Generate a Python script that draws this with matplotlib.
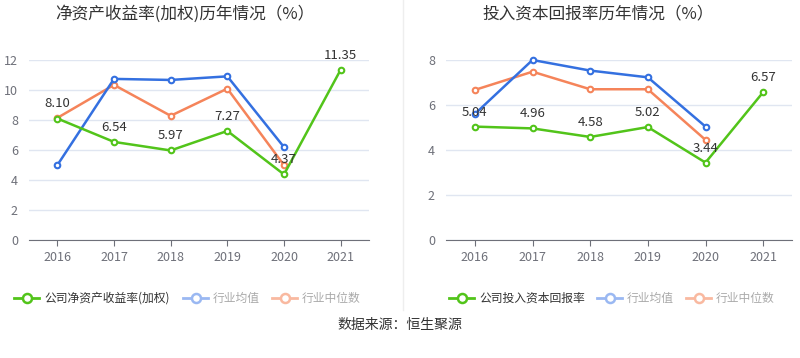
import matplotlib.pyplot as plt
from matplotlib.lines import Line2D

plt.rcParams['font.family'] = ['Noto Sans CJK SC', 'DejaVu Sans']

years = ['2016', '2017', '2018', '2019', '2020', '2021']

# 净资产收益率(加权)
roe_company = [8.10, 6.54, 5.97, 7.27, 4.37, 11.35]
roe_avg = [4.99, 10.74, 10.67, 10.91, 6.19]
roe_median = [8.14, 10.34, 8.28, 10.09, 4.99]

# 投入资本回报率
roic_company = [5.04, 4.96, 4.58, 5.02, 3.44, 6.57]
roic_avg = [5.60, 8.00, 7.53, 7.23, 5.04]
roic_median = [6.67, 7.48, 6.70, 6.70, 4.45]

green = '#52c41a'
blue = '#3470e0'
orange = '#f5845a'
blue_light = '#9ab8f2'
orange_light = '#f9b9a0'

W, H = 800, 358
fig = plt.figure(figsize=(8, 3.58), dpi=100)


def px(x, y):
    return x / W, 1 - y / H


def draw_panel(rect, company, avg, median, ymax, step, title, title_x):
    ax = fig.add_axes(rect)
    x = list(range(len(years)))
    for vals, c, z in [(median, orange, 2), (avg, blue, 3), (company, green, 4)]:
        ax.plot(x[:len(vals)], vals, color=c, lw=1.8, marker='o', ms=4,
                mfc='white', mec=c, mew=1.5, zorder=z, clip_on=False)
    for xi, v in zip(x, company):
        ax.text(xi, v + ymax * 0.045, f'{v:.2f}', ha='center', va='bottom',
                fontsize=9.5, color='#333333', zorder=6)
    ax.set_xlim(-0.5, len(years) - 0.5)
    ax.set_ylim(0, ymax)
    ax.set_yticks([i * step for i in range(int(ymax / step) + 1)])
    ax.set_xticks(x)
    ax.set_xticklabels(years)
    ax.grid(axis='y', color='#e0e6f1', lw=1)
    ax.set_axisbelow(True)
    for s in ['top', 'right', 'left']:
        ax.spines[s].set_visible(False)
    ax.spines['bottom'].set_color('#6e7079')
    ax.tick_params(axis='y', length=0, labelsize=9, labelcolor='#6e7079', pad=8)
    ax.tick_params(axis='x', length=4, color='#6e7079', labelsize=9,
                   labelcolor='#6e7079', pad=4)
    fig.text(*px(title_x, 14), title, ha='center', va='center', fontsize=12,
             color='#333333')
    return ax


draw_panel([29 / W, 118 / H, 340 / W, 180 / H], roe_company, roe_avg, roe_median,
           12, 2, '净资产收益率(加权)历年情况（%）', 185)
draw_panel([446 / W, 118 / H, 346 / W, 180 / H], roic_company, roic_avg, roic_median,
           8, 2, '投入资本回报率历年情况（%）', 598)

# 分隔线
fig.add_artist(Line2D([403 / W, 403 / W], [1 - 0 / H, 1 - 310 / H],
                      transform=fig.transFigure, color='#eeeeee', lw=1))


def legend_item(x0, label, color, tcolor):
    y = 298
    fig.add_artist(Line2D([x0 / W, (x0 + 25) / W], [1 - y / H, 1 - y / H],
                          transform=fig.transFigure, color=color, lw=2))
    fig.add_artist(Line2D([(x0 + 12.5) / W], [1 - y / H], transform=fig.transFigure,
                          color=color, marker='o', ms=6.5, mfc='white', mec=color, mew=1.8))
    fig.text((x0 + 30) / W, 1 - y / H, label, ha='left', va='center',
             fontsize=8.5, color=tcolor)


legend_item(14, '公司净资产收益率(加权)', green, '#333333')
legend_item(183, '行业均值', blue_light, '#aaaaaa')
legend_item(272, '行业中位数', orange_light, '#aaaaaa')
legend_item(449, '公司投入资本回报率', green, '#333333')
legend_item(597, '行业均值', blue_light, '#aaaaaa')
legend_item(686, '行业中位数', orange_light, '#aaaaaa')

fig.text(0.5, 1 - 325 / H, '数据来源：恒生聚源', ha='center', va='center',
         fontsize=10, color='#333333')

fig.savefig('out.png', dpi=100)
